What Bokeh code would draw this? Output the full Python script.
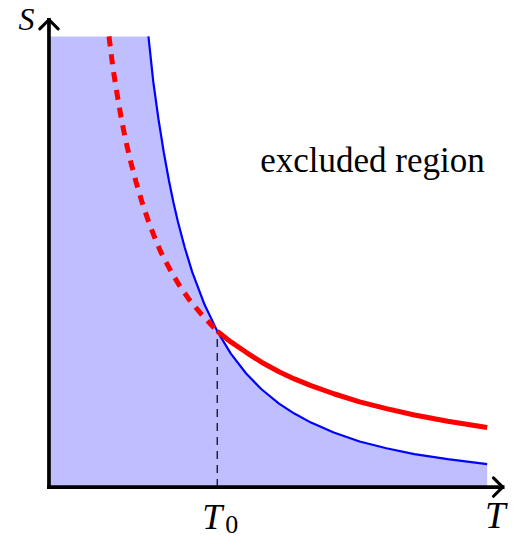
from bokeh.plotting import figure
from bokeh.models import Range1d, Label
from bokeh.embed import file_html
from bokeh.resources import INLINE

# ---- data (T, S in arbitrary units) ----
blue_T = [2.27, 2.38, 2.50, 2.62, 2.74, 2.84, 2.94, 3.10, 3.27, 3.55, 3.84, 4.15, 4.50,
          4.85, 5.25, 5.60, 5.98, 6.50, 7.09, 7.70, 8.34, 9.10, 10.0]
blue_S = [10.0, 9.00, 8.16, 7.43, 6.79, 6.32, 5.90, 5.31, 4.77, 4.05, 3.46, 2.96, 2.52,
          2.17, 1.85, 1.63, 1.43, 1.21, 1.01, 0.86, 0.73, 0.62, 0.51]

red_dash_T = [1.37, 1.46, 1.55, 1.65, 1.75, 1.87, 1.99, 2.13, 2.27, 2.42, 2.56, 2.76,
              2.96, 3.20, 3.49, 3.84]
red_dash_S = [10.0, 9.30, 8.75, 8.18, 7.70, 7.20, 6.76, 6.30, 5.90, 5.52, 5.20, 4.83,
              4.50, 4.16, 3.82, 3.46]

red_solid_T = [3.84, 4.15, 4.50, 4.85, 5.25, 5.60, 5.98, 6.50, 7.09, 7.70, 8.34, 9.10, 10.0]
red_solid_S = [3.46, 3.22, 2.99, 2.77, 2.56, 2.40, 2.25, 2.07, 1.89, 1.74, 1.60, 1.46, 1.32]

T0 = 3.84
S0 = 3.46
axis_T_end = 10.354
axis_S_end = 10.37

labels = {"S": "S", "T": "T", "sub": "0", "region": "excluded region"}

W, H = 508, 538
X0, X1 = -1.106, 10.487
Y0, Y1 = -1.142, 10.797

p = figure(width=W, height=H, x_range=Range1d(X0, X1), y_range=Range1d(Y0, Y1),
           output_backend="svg", toolbar_location=None, min_border=0)
p.axis.visible = False
p.grid.visible = False
p.outline_line_color = None
p.background_fill_color = "white"
p.border_fill_color = "white"

# filled admissible region under blue curve
top = blue_S[0]
fill_x = [0, 0] + blue_T + [blue_T[-1]]
fill_y = [0, top] + blue_S + [0]
p.patch(fill_x, fill_y, fill_color="#BFBFFF", line_color=None)

# dashed vertical marker at T0
p.segment(x0=[T0], y0=[0], x1=[T0], y1=[S0], line_color="black",
          line_width=1.2, line_dash="8 6")

# blue boundary
p.line(blue_T, blue_S, line_color="#0000FF", line_width=2.2)

# red curve
p.line(red_dash_T, red_dash_S, line_color="#FF0000", line_width=5, line_dash="10 8")
p.line(red_solid_T, red_solid_S, line_color="#FF0000", line_width=5)

# axes
AX_W = 3.7
p.segment(x0=[0], y0=[0], x1=[axis_T_end], y1=[0], line_color="black",
          line_width=AX_W, line_cap="square")
p.segment(x0=[0], y0=[0], x1=[0], y1=[axis_S_end], line_color="black",
          line_width=AX_W, line_cap="square")

# chevron arrow heads (size in screen pixels)
ARM = 9.2
px_T = W / (X1 - X0)
px_S = H / (Y1 - Y0)
dT = ARM / px_T
dS = ARM / px_S
p.multi_line(
    xs=[[-dT, 0, dT], [axis_T_end - dT, axis_T_end, axis_T_end - dT]],
    ys=[[axis_S_end - dS, axis_S_end, axis_S_end - dS], [dS, 0, -dS]],
    line_color="black", line_width=3.1, line_join="round", line_cap="round")

serif = "Liberation Serif"
YOFF = 11  # compensate svg baseline placement

p.add_layout(Label(x=-0.332, y=10.15, y_offset=YOFF, text=labels["S"], text_font=serif,
                   text_font_size="32px", text_font_style="italic",
                   text_align="right", text_baseline="alphabetic", text_color="black"))
p.add_layout(Label(x=T0, y=-0.970, x_offset=-5, y_offset=YOFF + 3, text=labels["T"],
                   text_font=serif, text_font_size="36px", text_font_style="italic",
                   text_align="center", text_baseline="alphabetic", text_color="black"))
p.add_layout(Label(x=T0, y=-1.085, x_offset=8, y_offset=YOFF, text=labels["sub"],
                   text_font=serif, text_font_size="26px", text_align="left",
                   text_baseline="alphabetic", text_color="black"))
p.add_layout(Label(x=9.95, y=-0.884, y_offset=YOFF, text=labels["T"], text_font=serif,
                   text_font_size="37px", text_font_style="italic",
                   text_align="left", text_baseline="alphabetic", text_color="black"))
p.add_layout(Label(x=4.82, y=7.0, y_offset=YOFF, text=labels["region"], text_font=serif,
                   text_font_size="35px", text_align="left",
                   text_baseline="alphabetic", text_color="black"))

open("out.html", "w").write(file_html(p, INLINE))
